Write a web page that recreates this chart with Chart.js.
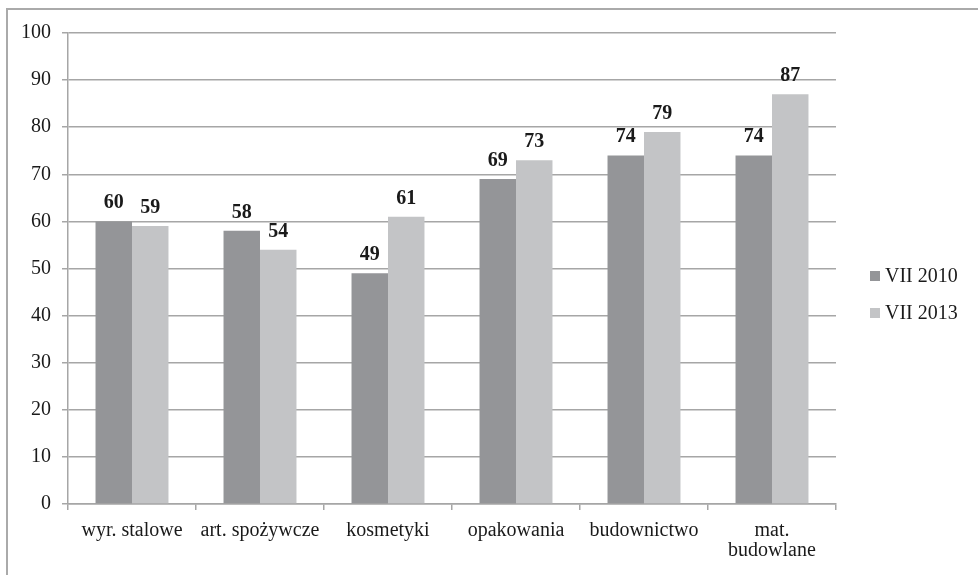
<!DOCTYPE html>
<html>
<head>
<meta charset="utf-8">
<title>Wykres</title>
<script src="https://cdn.jsdelivr.net/npm/chart.js@4/dist/chart.umd.min.js"></script>
<style>
  html, body { margin: 0; padding: 0; background: #fff; }
  #wrap { position: relative; width: 978px; height: 575px; overflow: hidden; }
  #frame {
    position: absolute; left: 6px; top: 8px; width: 990px; height: 600px;
    border: 2px solid #aaaaaa; box-sizing: border-box;
  }
  #chart { position: absolute; left: 0; top: 0; }
</style>
</head>
<body>
<div id="wrap">
  <div id="frame"></div>
  <canvas id="chart" width="978" height="575"></canvas>
</div>
<script>
// Categories (x axis)
const categories = [
  'wyr. stalowe',
  'art. spożywcze',
  'kosmetyki',
  'opakowania',
  'budownictwo',
  ['mat.', 'budowlane']
];

// Series values
const seriesNames = ['VII 2010', 'VII 2013'];
const values2010 = [60, 58, 49, 69, 74, 74];
const values2013 = [59, 54, 61, 73, 79, 87];

// Value axis ticks
const yTicks = [0, 10, 20, 30, 40, 50, 60, 70, 80, 90, 100];

const FONT = "'Liberation Serif', 'Times New Roman', serif";
const GRID = '#a6a6a6';
const COLORS = ['#949598', '#c3c4c6'];

// Bold value labels above each bar
const valueLabels = {
  id: 'valueLabels',
  afterDatasetsDraw(chart) {
    const ctx = chart.ctx;
    ctx.save();
    ctx.font = 'bold 20px ' + FONT;
    ctx.fillStyle = '#1a1a1a';
    ctx.textAlign = 'center';
    ctx.textBaseline = 'alphabetic';
    chart.data.datasets.forEach((ds, i) => {
      chart.getDatasetMeta(i).data.forEach((bar, j) => {
        ctx.fillText(String(ds.data[j]), bar.x, bar.y - 13);
      });
    });
    ctx.restore();
  }
};

// Legend on the right: square swatch + series name
const sideLegend = {
  id: 'sideLegend',
  afterDraw(chart) {
    const ctx = chart.ctx;
    const x = chart.chartArea.right + 34;
    const baselines = [282, 319];
    ctx.save();
    ctx.font = '20px ' + FONT;
    ctx.textAlign = 'left';
    ctx.textBaseline = 'alphabetic';
    chart.data.datasets.forEach((ds, i) => {
      const b = baselines[i];
      ctx.fillStyle = ds.backgroundColor;
      ctx.fillRect(x, b - 11, 10, 10);
      ctx.fillStyle = '#1a1a1a';
      ctx.fillText(ds.label, x + 15, b);
    });
    ctx.restore();
  }
};

new Chart(document.getElementById('chart'), {
  type: 'bar',
  data: {
    labels: categories,
    datasets: [
      { label: seriesNames[0], data: values2010, backgroundColor: COLORS[0] },
      { label: seriesNames[1], data: values2013, backgroundColor: COLORS[1] }
    ]
  },
  options: {
    responsive: false,
    animation: false,
    devicePixelRatio: 1,
    layout: { padding: { left: 0, top: 33, right: 142, bottom: 0 } },
    datasets: {
      bar: { barPercentage: 1.0, categoryPercentage: 0.57 }
    },
    plugins: {
      legend: { display: false },
      tooltip: { enabled: false }
    },
    scales: {
      x: {
        grid: {
          display: true,
          drawOnChartArea: false,
          drawTicks: true,
          tickLength: 6,
          color: GRID,
          lineWidth: 1.5
        },
        border: { display: true, color: GRID, width: 1.5 },
        ticks: {
          color: '#1a1a1a',
          padding: 11,
          maxRotation: 0,
          autoSkip: false,
          font: { family: FONT, size: 20, lineHeight: 1.0 }
        },
        afterFit(scale) { scale.height = 71; }
      },
      y: {
        min: 0,
        max: 100,
        afterBuildTicks(scale) { scale.ticks = yTicks.map(v => ({ value: v })); },
        grid: {
          color: GRID,
          lineWidth: 1.5,
          drawTicks: true,
          tickLength: 6
        },
        border: { display: true, color: GRID, width: 1.5 },
        ticks: {
          color: '#1a1a1a',
          padding: 11,
          font: { family: FONT, size: 20 }
        },
        afterFit(scale) { scale.width = 68; }
      }
    }
  },
  plugins: [valueLabels, sideLegend]
});
</script>
</body>
</html>
